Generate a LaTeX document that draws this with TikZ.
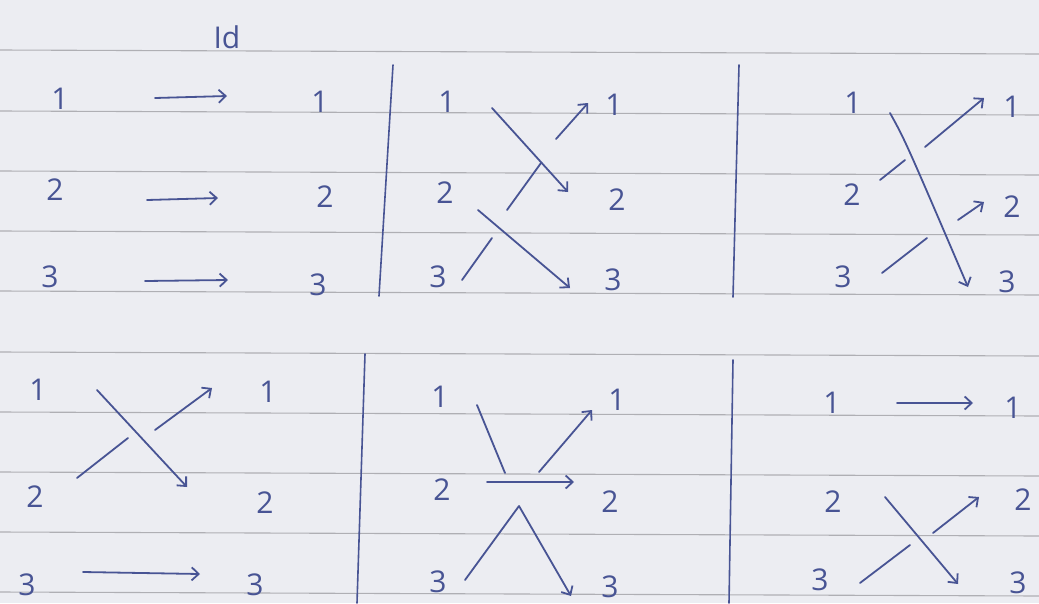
\documentclass[tikz,border=0pt]{standalone}
\usepackage{fontspec}
\newfontfamily\handf{Open Sans}
\usetikzlibrary{arrows.meta}
\definecolor{paper}{RGB}{236,237,242}
\definecolor{rulec}{RGB}{175,175,180}
\definecolor{inkc}{RGB}{72,84,148}
\tikzset{
  ink/.style={draw=inkc, line width=1.8pt, line cap=round, line join=round},
  arr/.style={ink, -{Straight Barb[length=7pt,width=13pt,line width=1.8pt]}},
  lab/.style={text=inkc, font=\handf\fontsize{30}{30}\selectfont, inner sep=0pt},
  ruled/.style={draw=rulec, line width=1.1pt},
  sep/.style={ink, line width=1.6pt}
}
\begin{document}
\begin{tikzpicture}[x=1pt,y=-1pt]
\fill[paper] (0,0) rectangle (1039,603);
\useasboundingbox (0,0) rectangle (1039,603);
% ruled paper lines
\foreach \yy in {50,111,171,231,291,352,412,472,532,592}
  \draw[ruled] (0,\yy) -- (1039,\yy+4);
% vertical separators
\coordinate (s1a) at (393,65);  \coordinate (s1b) at (379,296);
\coordinate (s2a) at (739,65);  \coordinate (s2b) at (733,297);
\coordinate (s3a) at (365,354); \coordinate (s3b) at (357,603);
\coordinate (s4a) at (733,360); \coordinate (s4b) at (729,603);
\draw[sep] (s1a) -- (s1b);
\draw[sep] (s2a) -- (s2b);
\draw[sep] (s3a) -- (s3b);
\draw[sep] (s4a) -- (s4b);

% ---------- Panel 1: Id ----------
\node[lab] (id) at (227,37) {Id};
\node[lab] (a1l) at (60,99) {1};  \node[lab] (a1r) at (320,102) {1};
\node[lab] (a2l) at (55,190) {2}; \node[lab] (a2r) at (325,197) {2};
\node[lab] (a3l) at (50,277) {3}; \node[lab] (a3r) at (318,285) {3};
\coordinate (a1s) at (155,98);  \coordinate (a1e) at (227,96);
\coordinate (a2s) at (147,200); \coordinate (a2e) at (218,198);
\coordinate (a3s) at (145,281); \coordinate (a3e) at (228,280);
\draw[arr] (a1s) -- (a1e);
\draw[arr] (a2s) -- (a2e);
\draw[arr] (a3s) -- (a3e);

% ---------- Panel 2 ----------
\node[lab] (b1l) at (447,102) {1}; \node[lab] (b1r) at (614,105) {1};
\node[lab] (b2l) at (445,193) {2}; \node[lab] (b2r) at (617,200) {2};
\node[lab] (b3l) at (438,277) {3}; \node[lab] (b3r) at (613,280) {3};
\coordinate (b12s) at (492,108); \coordinate (b12e) at (568,192);
\coordinate (b23s) at (478,210); \coordinate (b23e) at (570,288);
\coordinate (b31a) at (462,280); \coordinate (b31b) at (492,238);
\coordinate (b31c) at (507,210); \coordinate (b31d) at (541,163);
\coordinate (b31f) at (556,139); \coordinate (b31e) at (588,103);
\draw[arr] (b12s) -- (b12e);
\draw[arr] (b23s) -- (b23e);
\draw[ink] (b31a) -- (b31b);
\draw[ink] (b31c) -- (b31d);
\draw[arr] (b31f) -- (b31e);

% ---------- Panel 3 ----------
\node[lab] (c1l) at (853,103) {1}; \node[lab] (c1r) at (1012,107) {1};
\node[lab] (c2l) at (852,195) {2}; \node[lab] (c2r) at (1012,207) {2};
\node[lab] (c3l) at (843,277) {3}; \node[lab] (c3r) at (1007,282) {3};
\coordinate (c13s) at (890,113); \coordinate (c13m) at (905,140); \coordinate (c13e) at (968,287);
\coordinate (c21a) at (880,180); \coordinate (c21b) at (905,160);
\coordinate (c21c) at (925,147); \coordinate (c21e) at (984,98);
\coordinate (c32a) at (882,273); \coordinate (c32b) at (927,238);
\coordinate (c32c) at (958,220); \coordinate (c32e) at (984,202);
\draw[arr] (c13s) .. controls (c13m) .. (c13e);
\draw[ink] (c21a) -- (c21b);
\draw[arr] (c21c) -- (c21e);
\draw[ink] (c32a) -- (c32b);
\draw[arr] (c32c) -- (c32e);

% ---------- Panel 4 ----------
\node[lab] (d1l) at (38,390) {1};  \node[lab] (d1r) at (268,392) {1};
\node[lab] (d2l) at (35,497) {2};  \node[lab] (d2r) at (265,503) {2};
\node[lab] (d3l) at (27,585) {3};  \node[lab] (d3r) at (255,585) {3};
\coordinate (d12s) at (97,390);  \coordinate (d12e) at (187,487);
\coordinate (d21a) at (77,478);  \coordinate (d21b) at (128,438);
\coordinate (d21c) at (155,430); \coordinate (d21e) at (212,388);
\coordinate (d33s) at (83,572);  \coordinate (d33e) at (200,574);
\draw[arr] (d12s) -- (d12e);
\draw[ink] (d21a) -- (d21b);
\draw[arr] (d21c) -- (d21e);
\draw[arr] (d33s) -- (d33e);

% ---------- Panel 5 ----------
\node[lab] (e1l) at (440,397) {1}; \node[lab] (e1r) at (617,400) {1};
\node[lab] (e2l) at (442,490) {2}; \node[lab] (e2r) at (610,502) {2};
\node[lab] (e3l) at (438,582) {3}; \node[lab] (e3r) at (610,587) {3};
\coordinate (e13a) at (477,405); \coordinate (e13b) at (505,473);
\coordinate (e31c) at (539,472); \coordinate (e31e) at (592,410);
\coordinate (e22s) at (487,482); \coordinate (e22e) at (574,482);
\coordinate (e3a) at (465,580);  \coordinate (e3p) at (519,506);
\coordinate (e3e) at (571,596);
\draw[ink] (e13a) -- (e13b);
\draw[arr] (e31c) -- (e31e);
\draw[arr] (e22s) -- (e22e);
\draw[arr] (e3a) -- (e3p) -- (e3e);

% ---------- Panel 6 ----------
\node[lab] (f1l) at (832,403) {1}; \node[lab] (f1r) at (1013,408) {1};
\node[lab] (f2l) at (833,502) {2}; \node[lab] (f2r) at (1023,500) {2};
\node[lab] (f3l) at (820,580) {3}; \node[lab] (f3r) at (1018,583) {3};
\coordinate (f11s) at (897,403); \coordinate (f11e) at (973,403);
\coordinate (f23s) at (885,497); \coordinate (f23e) at (958,584);
\coordinate (f32a) at (860,583); \coordinate (f32b) at (910,545);
\coordinate (f32c) at (933,533); \coordinate (f32e) at (979,497);
\draw[arr] (f11s) -- (f11e);
\draw[arr] (f23s) -- (f23e);
\draw[ink] (f32a) -- (f32b);
\draw[arr] (f32c) -- (f32e);
\end{tikzpicture}
\end{document}
